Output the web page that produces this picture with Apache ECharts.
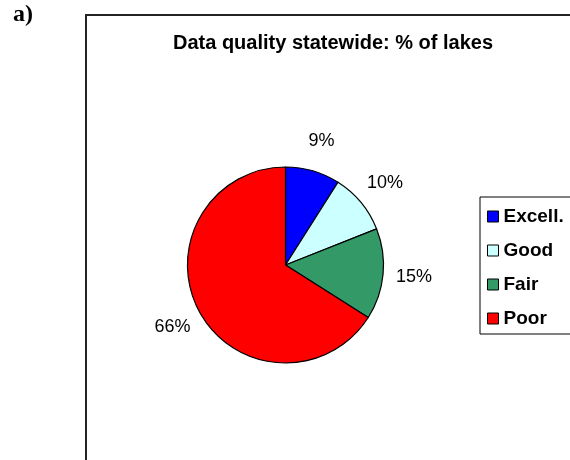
<!DOCTYPE html>
<html>
<head>
<meta charset="utf-8">
<script src="https://cdn.jsdelivr.net/npm/echarts@6/dist/echarts.min.js"></script>
<style>html,body{margin:0;padding:0;background:#fff;}#c{width:570px;height:460px;}</style>
</head>
<body>
<div id="c"></div>
<script>
const categories = ['Excell.', 'Good', 'Fair', 'Poor'];
const values = [9, 10, 15, 66];
const labels = ['9%', '10%', '15%', '66%'];
const colors = ['#0000FF', '#CCFFFF', '#339966', '#FF0000'];
const titleText = 'Data quality statewide: % of lakes';
const panelTag = 'a)';

const chart = echarts.init(document.getElementById('c'), null, {renderer: 'canvas'});
const pieData = categories.map((n, i) => ({name: n, value: values[i], itemStyle: {color: colors[i]}}));
const labelData = categories.map((n, i) => ({name: n, value: values[i], label: {formatter: labels[i]}}));

chart.setOption({
  animation: false,
  backgroundColor: '#fff',
  graphic: [{
    type: 'rect', left: 85, top: 14, z: -1,
    shape: {width: 560, height: 520},
    style: {fill: '#fff', stroke: '#222', lineWidth: 2}
  }],
  title: [{
    text: titleText, left: 168, top: 28,
    textStyle: {fontFamily: 'Liberation Sans, Arial', fontWeight: 'bold', fontSize: 20, color: '#000'}
  }, {
    text: panelTag, left: 8, top: -2,
    textStyle: {fontFamily: 'Liberation Serif, Times New Roman', fontWeight: 'bold', fontSize: 24, color: '#000'}
  }],
  legend: {
    orient: 'vertical', left: 480, top: 197,
    data: categories,
    backgroundColor: '#fff', borderColor: '#000', borderWidth: 1,
    padding: [10, 100, 6, 7],
    itemWidth: 11, itemHeight: 11, itemGap: 15, itemTextGap: 9,
    icon: 'rect',
    itemStyle: {borderColor: '#000', borderWidth: 1},
    textStyle: {fontFamily: 'Liberation Sans, Arial', fontWeight: 'bold', fontSize: 19, color: '#000', lineHeight: 19}
  },
  series: [{
    type: 'pie', center: [285.5, 265], radius: [0, 98],
    startAngle: 90, clockwise: true,
    avoidLabelOverlap: false,
    label: {show: false}, labelLine: {show: false},
    itemStyle: {borderColor: '#000', borderWidth: 1.2},
    emphasis: {disabled: true},
    data: pieData
  }, {
    type: 'pie', center: [285.5, 265], radius: [0, 252],
    startAngle: 90, clockwise: true, silent: true,
    avoidLabelOverlap: false,
    itemStyle: {color: 'rgba(0,0,0,0)', borderWidth: 0},
    label: {show: true, position: 'inside', fontFamily: 'Liberation Sans, Arial', fontSize: 18, color: '#000'},
    labelLine: {show: false},
    emphasis: {disabled: true},
    data: labelData
  }]
});
</script>
</body>
</html>
